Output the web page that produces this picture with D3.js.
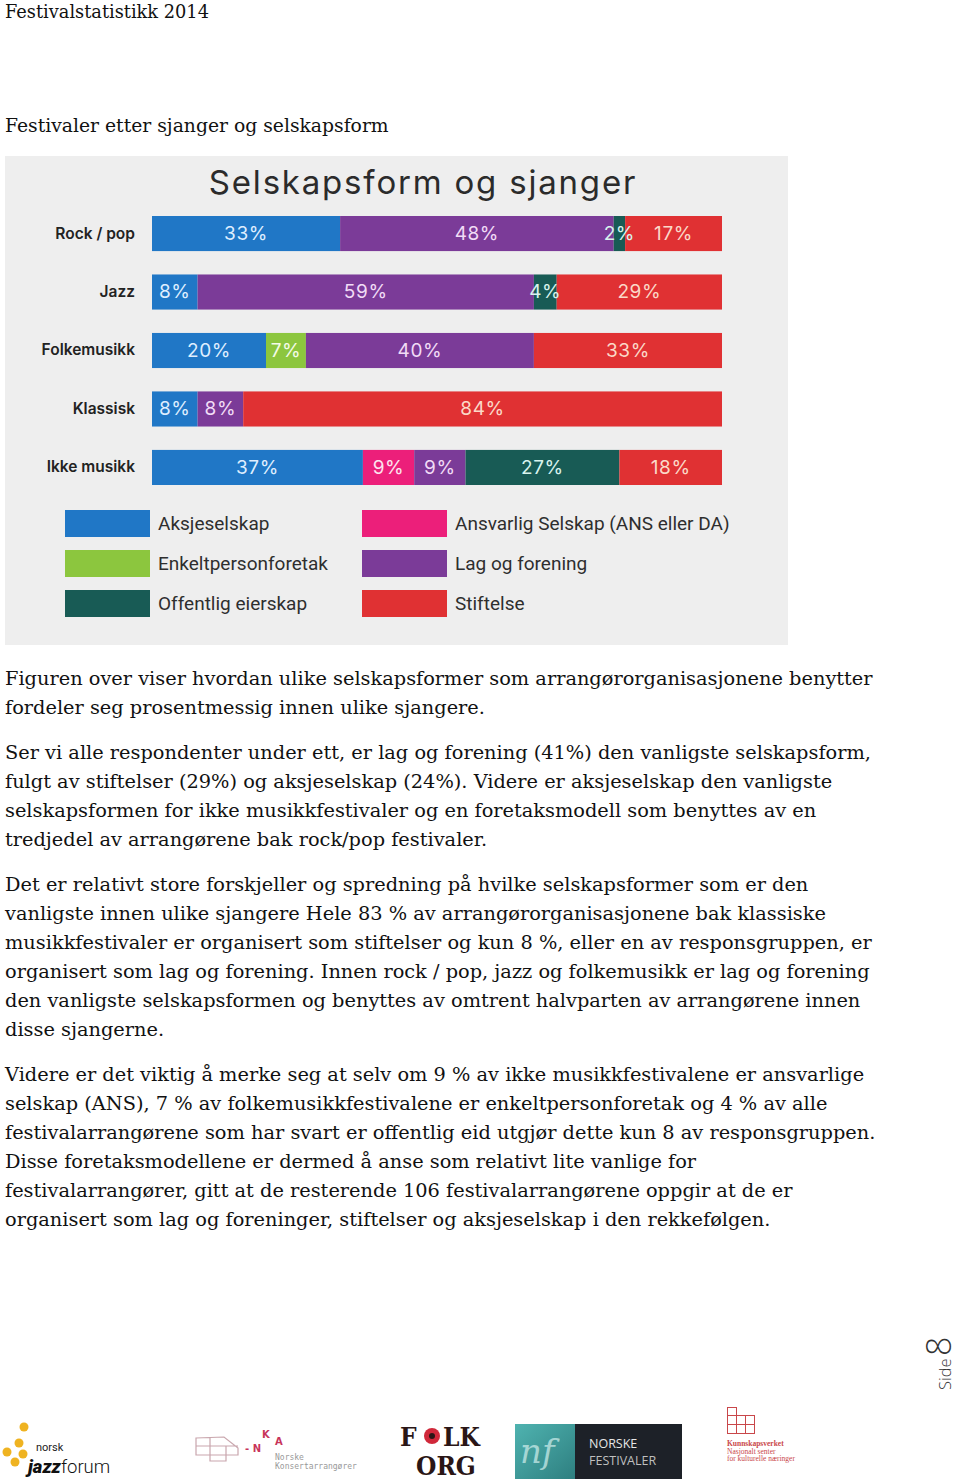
<!DOCTYPE html>
<html><head><meta charset="utf-8">
<script src="https://cdn.jsdelivr.net/npm/d3@7"></script>
<style>html,body{margin:0;padding:0;background:#fff}svg{display:block}</style>
</head><body>
<script>
// ---- data ----
const categories = ["Rock / pop", "Jazz", "Folkemusikk", "Klassisk", "Ikke musikk"];
const seriesNames = ["Aksjeselskap", "Enkeltpersonforetak", "Ansvarlig Selskap (ANS eller DA)", "Lag og forening", "Offentlig eierskap", "Stiftelse"];
const aksjeselskap        = [33, 8, 20, 8, 37];
const enkeltpersonforetak = [0, 0, 7, 0, 0];
const ansvarligSelskap    = [0, 0, 0, 0, 9];
const lagOgForening       = [48, 59, 40, 8, 9];
const offentligEierskap   = [2, 4, 0, 0, 27];
const stiftelse           = [17, 29, 33, 84, 18];
const legendOrder = ["Aksjeselskap", "Enkeltpersonforetak", "Offentlig eierskap", "Ansvarlig Selskap (ANS eller DA)", "Lag og forening", "Stiftelse"];

const paragraphs = [
  ["Figuren over viser hvordan ulike selskapsformer som arrangørorganisasjonene benytter",
   "fordeler seg prosentmessig innen ulike sjangere."],
  ["Ser vi alle respondenter under ett, er lag og forening (41%) den vanligste selskapsform,",
   "fulgt av stiftelser (29%) og aksjeselskap (24%). Videre er aksjeselskap den vanligste",
   "selskapsformen for ikke musikkfestivaler og en foretaksmodell som benyttes av en",
   "tredjedel av arrangørene bak rock/pop festivaler."],
  ["Det er relativt store forskjeller og spredning på hvilke selskapsformer som er den",
   "vanligste innen ulike sjangere Hele 83 % av arrangørorganisasjonene bak klassiske",
   "musikkfestivaler er organisert som stiftelser og kun 8 %, eller en av responsgruppen, er",
   "organisert som lag og forening. Innen rock / pop, jazz og folkemusikk er lag og forening",
   "den vanligste selskapsformen og benyttes av omtrent halvparten av arrangørene innen",
   "disse sjangerne."],
  ["Videre er det viktig å merke seg at selv om 9 % av ikke musikkfestivalene er ansvarlige",
   "selskap (ANS), 7 % av folkemusikkfestivalene er enkeltpersonforetak og 4 % av alle",
   "festivalarrangørene som har svart er offentlig eid utgjør dette kun 8 av responsgruppen.",
   "Disse foretaksmodellene er dermed å anse som relativt lite vanlige for",
   "festivalarrangører, gitt at de resterende 106 festivalarrangørene oppgir at de er",
   "organisert som lag og foreninger, stiftelser og aksjeselskap i den rekkefølgen."]
];

// ---- build table ----
const valueArrays = [aksjeselskap, enkeltpersonforetak, ansvarligSelskap, lagOgForening, offentligEierskap, stiftelse];
const table = categories.map((c, i) => {
  const row = {category: c};
  seriesNames.forEach((s, j) => row[s] = valueArrays[j][i]);
  return row;
});
const colors = d3.scaleOrdinal().domain(seriesNames)
  .range(["#2077c6", "#8cc63e", "#ec1f7a", "#7b3b98", "#185b55", "#e03133"]);
const labelColors = d3.scaleOrdinal().domain(seriesNames)
  .range(["#dfeeff", "#f4fbe8", "#fde4ef", "#f1dcf6", "#d8f3ee", "#fbd9c8"]);

const W = 960, H = 1480;
const svg = d3.select("body").append("svg").attr("width", W).attr("height", H);
svg.append("rect").attr("width", W).attr("height", H).attr("fill", "#fff");

const serif = "'DejaVu Serif', 'Liberation Serif', serif";
function fitText(sel, base, target) {
  const w = sel.node().getComputedTextLength();
  sel.attr("font-size", base * target / w);
}
const h1 = svg.append("text").attr("x", 5).attr("y", 18).attr("font-family", serif).attr("font-size", 18)
  .attr("fill", "#111").text("Festivalstatistikk 2014");
fitText(h1, 18, 204);
const h2 = svg.append("text").attr("x", 5).attr("y", 132).attr("font-family", serif).attr("font-size", 19)
  .attr("fill", "#111").text("Festivaler etter sjanger og selskapsform");
fitText(h2, 19, 384);

// chart panel
svg.append("rect").attr("x", 5).attr("y", 156).attr("width", 783).attr("height", 489).attr("fill", "#eeeeee");
svg.append("text").attr("x", 423).attr("y", 194).attr("text-anchor", "middle")
  .attr("font-family", "Inter, 'Open Sans', sans-serif").attr("font-size", 33).attr("letter-spacing", 1.8)
  .attr("fill", "#2b2b2b").text("Selskapsform og sjanger");

const x = d3.scaleLinear().domain([0, 100]).range([152, 722]);
const y = d3.scaleBand().domain(categories).range([216, 485]).paddingInner(0.4).paddingOuter(0);

const stack = d3.stack().keys(seriesNames)(table);
const segs = stack.flatMap(layer => layer.map(v => ({key: layer.key, x0: v[0], x1: v[1], category: v.data.category})));

svg.append("g").selectAll("rect").data(segs).join("rect")
  .attr("x", d => x(d.x0)).attr("y", d => y(d.category))
  .attr("width", d => x(d.x1) - x(d.x0)).attr("height", y.bandwidth())
  .attr("fill", d => colors(d.key));

svg.append("g").selectAll("text").data(segs.filter(d => d.x1 - d.x0 > 0)).join("text")
  .attr("x", d => (x(d.x0) + x(d.x1)) / 2)
  .attr("y", d => y(d.category) + y.bandwidth() / 2 + 1)
  .attr("text-anchor", "middle").attr("dominant-baseline", "middle")
  .attr("font-family", "Inter, 'Open Sans', sans-serif").attr("font-size", 19).attr("letter-spacing", 0.6)
  .attr("fill", d => labelColors(d.key))
  .text(d => (d.x1 - d.x0) + "%");

// category axis
const axis = d3.axisLeft(y).tickSize(0).tickPadding(17);
const ag = svg.append("g").attr("transform", "translate(152,0)").call(axis);
ag.select(".domain").remove();
ag.selectAll("text").attr("font-family", "Inter, 'Open Sans', sans-serif").attr("font-size", 15.5)
  .attr("font-weight", 600).attr("fill", "#222");

// legend
const legendX = [65, 362], legendY = [510, 550, 590];
const lg = svg.append("g");
legendOrder.forEach((name, i) => {
  const col = Math.floor(i / 3), row = i % 3;
  lg.append("rect").attr("x", legendX[col]).attr("y", legendY[row]).attr("width", 85).attr("height", 27)
    .attr("fill", colors(name));
  lg.append("text").attr("x", legendX[col] + 93).attr("y", legendY[row] + 20)
    .attr("font-family", "Roboto, 'Open Sans', sans-serif").attr("font-size", 19)
    .attr("fill", "#2e2e2e").text(name);
});

// body text
let by = 685;
const tg = svg.append("g").attr("font-family", serif).attr("font-size", 20).attr("fill", "#111");
const lines = [];
paragraphs.forEach((p) => {
  p.forEach(line => {
    lines.push(tg.append("text").attr("x", 5).attr("y", by).text(line));
    by += 29.1;
  });
  by += 15.5;
});
const w0 = lines[0].node().getComputedTextLength();
tg.attr("font-size", 20 * 868 / w0);

// page number
const pn = svg.append("g").attr("transform", "translate(951,1390) rotate(-90)")
  .attr("font-family", "'Open Sans', sans-serif").attr("fill", "#333");
pn.append("text").attr("x", 0).attr("y", 0).attr("font-size", 16.5).attr("font-weight", 300).text("Side");
pn.append("text").attr("x", 34).attr("y", 0).attr("font-size", 34).attr("font-weight", 300).text("8");

// ---- logos ----
const logos = svg.append("g");
// norsk jazzforum
[[24,1427],[19,1443],[7,1452],[23,1454],[15,1462]].forEach(p =>
  logos.append("circle").attr("cx", p[0]).attr("cy", p[1]).attr("r", 4.5).attr("fill", "#efb321"));
logos.append("text").attr("x", 36).attr("y", 1451).attr("font-family", "Roboto, sans-serif").attr("font-size", 11).attr("fill", "#222").text("norsk");
const jz = logos.append("text").attr("x", 28).attr("y", 1473).attr("font-family", "Roboto, sans-serif").attr("font-size", 18.5).attr("fill", "#111");
jz.append("tspan").attr("font-weight", 900).attr("font-style", "italic").text("jazz");
jz.append("tspan").attr("font-weight", 300).text("forum");
// NKA
logos.append("path").attr("d", "M196,1438 L224,1437 L238,1448 L238,1455 L196,1455 Z M196,1446 L238,1446 M210,1438 L210,1461 L226,1461 L226,1446")
  .attr("fill", "none").attr("stroke", "#c9a6ad").attr("stroke-width", 1.2);
logos.append("text").attr("x", 245).attr("y", 1452).attr("font-family", "'DejaVu Sans', sans-serif").attr("font-size", 10).attr("font-weight", 700).attr("fill", "#c8345a").text("- N");
logos.append("text").attr("x", 262).attr("y", 1438).attr("font-family", "'DejaVu Sans', sans-serif").attr("font-size", 10).attr("font-weight", 700).attr("fill", "#c8345a").text("K");
logos.append("text").attr("x", 275).attr("y", 1445).attr("font-family", "'DejaVu Sans', sans-serif").attr("font-size", 10).attr("font-weight", 700).attr("fill", "#c8345a").text("A");
logos.append("text").attr("x", 275).attr("y", 1460).attr("font-family", "'DejaVu Sans Mono', monospace").attr("font-size", 8).attr("fill", "#999").text("Norske");
logos.append("text").attr("x", 275).attr("y", 1469).attr("font-family", "'DejaVu Sans Mono', monospace").attr("font-size", 8).attr("fill", "#999").text("Konsertarrangører");
// FOLK ORG
const folkFont = "'DejaVu Serif Condensed', 'DejaVu Serif', serif";
logos.append("text").attr("x", 400).attr("y", 1446).attr("font-family", folkFont).attr("font-size", 26).attr("font-weight", 700).attr("fill", "#2a1616").text("F");
logos.append("circle").attr("cx", 432).attr("cy", 1436).attr("r", 8).attr("fill", "#d0283a");
logos.append("circle").attr("cx", 432).attr("cy", 1436).attr("r", 3).attr("fill", "#2a1616");
logos.append("text").attr("x", 443).attr("y", 1446).attr("font-family", folkFont).attr("font-size", 26).attr("font-weight", 700).attr("fill", "#2a1616").text("LK");
logos.append("text").attr("x", 416).attr("y", 1475).attr("font-family", folkFont).attr("font-size", 26).attr("font-weight", 700).attr("fill", "#2a1616").text("ORG");
// Norske festivaler
const grad = svg.append("defs").append("linearGradient").attr("id", "nfg").attr("x1", 0).attr("x2", 1).attr("y1", 0).attr("y2", 1);
grad.append("stop").attr("offset", 0).attr("stop-color", "#4fb3b0");
grad.append("stop").attr("offset", 1).attr("stop-color", "#2e7f80");
logos.append("rect").attr("x", 515).attr("y", 1424).attr("width", 167).attr("height", 55).attr("fill", "#1d2128");
logos.append("rect").attr("x", 515).attr("y", 1424).attr("width", 60).attr("height", 55).attr("fill", "url(#nfg)");
logos.append("text").attr("x", 520).attr("y", 1463).attr("font-family", "'DejaVu Serif', serif").attr("font-style", "italic").attr("font-size", 34).attr("fill", "#bfe4e2").attr("opacity", 0.8).text("nf");
logos.append("text").attr("x", 589).attr("y", 1448).attr("font-family", "'Open Sans', sans-serif").attr("font-size", 12.5).attr("fill", "#e6e6e6").text("NORSKE");
logos.append("text").attr("x", 589).attr("y", 1465).attr("font-family", "'Open Sans', sans-serif").attr("font-size", 12.5).attr("fill", "#bfbfbf").text("FESTIVALER");
// Kunnskapsverket
const kv = logos.append("g").attr("fill", "none").attr("stroke", "#c9474a").attr("stroke-width", 1);
kv.append("rect").attr("x", 727.5).attr("y", 1407.5).attr("width", 9).attr("height", 8);
[[727.5,1415.5],[736.5,1415.5],[745.5,1415.5],[727.5,1424.5],[736.5,1424.5],[745.5,1424.5]].forEach(p =>
  kv.append("rect").attr("x", p[0]).attr("y", p[1]).attr("width", 9).attr("height", 9));
["Kunnskapsverket", "Nasjonalt senter", "for kulturelle næringer"].forEach((t, i) =>
  logos.append("text").attr("x", 727).attr("y", 1446 + i * 7.5).attr("font-family", "'Liberation Serif', serif").attr("font-size", 7.5)
    .attr("font-weight", i === 0 ? 700 : 400).attr("fill", "#c9474a").text(t));
</script>
</body></html>
